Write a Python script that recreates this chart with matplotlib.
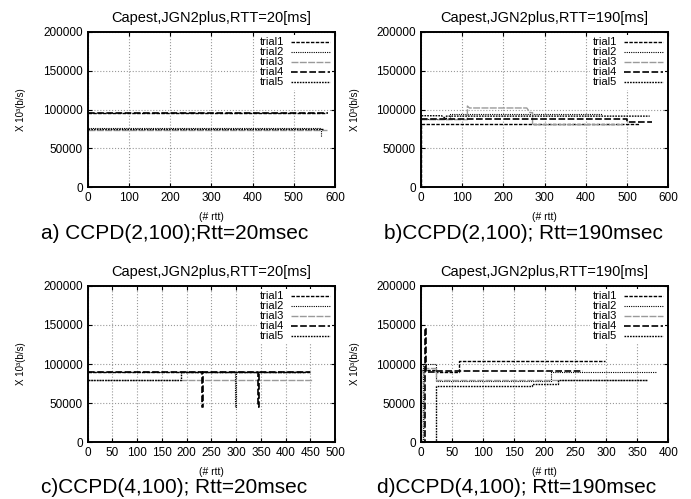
import matplotlib
matplotlib.use("Agg")
import matplotlib.pyplot as plt

plt.rcParams['font.family'] = ['Liberation Sans', 'DejaVu Sans']

# panel titles / captions
titles = ["Capest,JGN2plus,RTT=20[ms]", "Capest,JGN2plus,RTT=190[ms]",
          "Capest,JGN2plus,RTT=20[ms]", "Capest,JGN2plus,RTT=190[ms]"]
captions = ["a) CCPD(2,100);Rtt=20msec", "b)CCPD(2,100); Rtt=190msec",
            "c)CCPD(4,100); Rtt=20msec", "d)CCPD(4,100); Rtt=190msec"]
labels = ["trial1", "trial2", "trial3", "trial4", "trial5"]
xmax = [600, 600, 500, 400]
xstep = [100, 100, 50, 50]

# a) CCPD(2,100), RTT=20
a_x1 = [0, 578];             a_y1 = [95000, 95000]
a_x2 = [0, 565, 565];        a_y2 = [76500, 76500, 65000]
a_x3 = [0, 580];             a_y3 = [73000, 73000]
a_x4 = [0, 582];             a_y4 = [95500, 95500]
a_x5 = [0, 570];             a_y5 = [75500, 75500]

# b) CCPD(2,100), RTT=190
b_x1 = [0, 0, 530];          b_y1 = [0, 81000, 81000]
b_x2 = [0, 70, 70, 440];     b_y2 = [88000, 88000, 94500, 94500]
b_x3 = [0, 113, 113, 118, 257, 265, 271, 271, 490]
b_y3 = [87000, 87000, 104500, 102000, 102000, 96000, 96000, 80500, 80500]
b_x4 = [0, 500, 500, 560];   b_y4 = [87500, 87500, 84000, 84000]
b_x5 = [0, 0, 50, 62, 62, 555]
b_y5 = [0, 92000, 92000, 88000, 91500, 91500]

# c) CCPD(4,100), RTT=20
c_x1 = [0, 450];             c_y1 = [90000, 90000]
c_x2 = [0, 298, 298, 300, 300, 445]
c_y2 = [90000, 90000, 45000, 45000, 90000, 90000]
c_x3 = [0, 455];             c_y3 = [80000, 80000]
c_x4 = [0, 231, 231, 233, 233, 345, 345, 347, 347, 450]
c_y4 = [90000, 90000, 45000, 45000, 90000, 90000, 45000, 45000, 90000, 90000]
c_x5 = [0, 188, 188, 440];   c_y5 = [80000, 80000, 90000, 90000]

# d) CCPD(4,100), RTT=190
d_x1 = [0, 1, 1, 24, 24, 62, 62, 298]
d_y1 = [0, 0, 92000, 92000, 90000, 90000, 104000, 104000]
d_x2 = [0, 3, 3, 24, 24, 210, 210, 382]
d_y2 = [0, 0, 100000, 100000, 78000, 78000, 90000, 90000]
d_x3 = [0, 5, 5, 25, 25, 365]
d_y3 = [0, 0, 95000, 95000, 80000, 80000]
d_x4 = [0, 7, 7, 9, 9, 25, 25, 263]
d_y4 = [0, 0, 146000, 146000, 90000, 90000, 91000, 91000]
d_x5 = [0, 24, 24, 180, 180, 222, 222, 365]
d_y5 = [0, 0, 72000, 72000, 75000, 75000, 80000, 80000]

panels = [
    [(a_x1, a_y1), (a_x2, a_y2), (a_x3, a_y3), (a_x4, a_y4), (a_x5, a_y5)],
    [(b_x1, b_y1), (b_x2, b_y2), (b_x3, b_y3), (b_x4, b_y4), (b_x5, b_y5)],
    [(c_x1, c_y1), (c_x2, c_y2), (c_x3, c_y3), (c_x4, c_y4), (c_x5, c_y5)],
    [(d_x1, d_y1), (d_x2, d_y2), (d_x3, d_y3), (d_x4, d_y4), (d_x5, d_y5)],
]

# gnuplot-ish line styles for the five trials
styles = [
    dict(color='black', lw=1.0, dashes=(2.5, 1.0)),
    dict(color='black', lw=0.8, dashes=(1.0, 1.0)),
    dict(color='#9a9a9a', lw=1.0, dashes=(5.0, 1.0)),
    dict(color='black', lw=1.2, dashes=(4.0, 1.5)),
    dict(color='black', lw=1.0, dashes=(1.2, 0.8)),
]

# axes boxes in figure fraction
boxes = [
    [0.127, 0.625, 0.358, 0.311],
    [0.609, 0.625, 0.358, 0.311],
    [0.127, 0.114, 0.358, 0.313],
    [0.609, 0.114, 0.358, 0.313],
]
cap_pos = [(0.252, 0.533), (0.757, 0.533), (0.252, 0.024), (0.748, 0.024)]

fig = plt.figure(figsize=(6.91, 4.99), dpi=100)

for i in range(4):
    ax = fig.add_axes(boxes[i])
    for j, (xs, ys) in enumerate(panels[i]):
        ax.plot(xs, ys, label=labels[j], **styles[j])
    ax.set_xlim(0, xmax[i])
    ax.set_ylim(0, 200000)
    ax.set_xticks(range(0, xmax[i] + 1, xstep[i]))
    ax.set_yticks(range(0, 200001, 50000))
    ax.tick_params(direction='in', length=3, labelsize=8.5, top=True, right=True)
    ax.grid(True, color='#999999', linestyle=':', linewidth=0.8)
    for sp in ax.spines.values():
        sp.set_linewidth(1.4)
    ax.set_title(titles[i], fontsize=10.5, pad=7)
    ax.set_xlabel("(# rtt)", fontsize=7.5, labelpad=6)
    ax.set_ylabel("X 10³(b/s)", fontsize=7, labelpad=12)
    leg = ax.legend(loc='upper right', fontsize=8, markerfirst=False,
                    handlelength=3.5, labelspacing=0.0, borderpad=0.2,
                    borderaxespad=0.3, handletextpad=0.6, fancybox=False,
                    framealpha=1.0)
    leg.get_frame().set_edgecolor('none')
    fig.text(cap_pos[i][0], cap_pos[i][1], captions[i], fontsize=15,
             ha='center', va='center')

fig.savefig("out.png", dpi=100)
